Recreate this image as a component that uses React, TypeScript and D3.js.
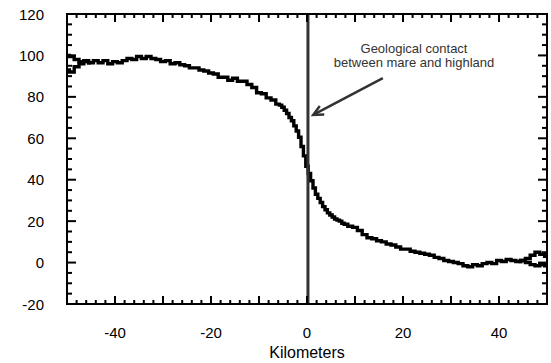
import React from "react";
import * as d3 from "d3";

const kmA: number[] = [
  -50, -49, -48, -47, -46, -45, -44, -43, -42, -41,
  -40, -39, -38, -37, -36, -35, -34, -33, -32, -31,
  -30, -29, -28, -27, -26, -25, -24, -23, -22, -21,
  -20, -19, -18, -17, -16, -15, -14, -13, -12, -11,
  -10, -9, -8, -7,
  -6, -5.5, -5, -4.5, -4, -3.5, -3, -2.5, -2, -1.5, -1, -0.5,
  0, 0.5, 1, 1.5, 2, 2.5, 3, 3.5, 4, 4.5, 5, 5.5, 6, 6.5, 7, 7.5,
  8, 9, 10, 11, 12, 13, 14, 15, 16, 17, 18, 19,
  20, 21, 22, 23, 24, 25, 26, 27, 28, 29,
  30, 31, 32, 33, 34, 35, 36, 37, 38, 39,
  40, 41, 42, 43, 44, 45, 46, 47, 48, 49, 50,
];
const valuesA: number[] = [
  100, 99.5, 98, 97, 97.5, 96.5, 97.5, 96.5, 97.5, 96,
  97, 96.5, 97.5, 98.5, 98, 99.5, 98.5, 99.5, 98.5, 98,
  97, 97.5, 96, 96.5, 95.5, 95, 94, 94, 93, 92.5,
  91.5, 91, 89.5, 89.5, 88, 89, 87.5, 87.5, 86, 84.5,
  82, 81.5, 79.5, 78.5,
  76.5, 76, 75, 73.5, 72, 70, 68.5, 66, 63.5, 60.5, 56, 51.5,
  46.5, 43, 39.5, 36, 33, 31, 29, 27, 25.5, 24, 23, 22, 21, 20.5, 20, 19,
  18.5, 17.5, 17, 15.5, 13.5, 12, 11.5, 10.5, 10, 9, 8.5, 7.5,
  6.5, 6.5, 5.5, 5, 4.5, 4, 3.5, 2.5, 2, 1,
  0.5, 0, -0.5, -1.5, -2, -1, -1.5, -0.5, 0, -0.5,
  1, 0.5, 1.5, 1, 0.5, 1, 0, -1, -1.5, -1, -1.5,
];
const kmLeftB: number[] = [-50, -49, -48, -47, -46, -45];
const valuesLeftB: number[] = [93, 92, 94.5, 96, 97, 96.5];
const kmRightB: number[] = [44, 45, 46, 47, 48, 49, 50];
const valuesRightB: number[] = [0.5, 1, 2, 3.5, 5, 4, 3];

const xTickLabels: number[] = [-40, -20, 0, 20, 40];
const yTickLabels: number[] = [-20, 0, 20, 40, 60, 80, 100, 120];
const contactKm = 0.2;
const arrowFrom: [number, number] = [15.8, 89];
const arrowTo: [number, number] = [1.3, 71.3];
const noteLines: string[] = ["Geological contact", "between mare and highland"];
const xTitle = "Kilometers";

const W = 551, H = 363;
const L = 67, R = 547, T = 14, B = 304;
const FONT = "'Liberation Sans', Arial, sans-serif";

export default function App() {
  const x = d3.scaleLinear().domain([-50, 50]).range([L, R]);
  const y = d3.scaleLinear().domain([-20, 120]).range([B, T]);
  const line = d3
    .line<[number, number]>()
    .x((d) => x(d[0]))
    .y((d) => y(d[1]))
    .curve(d3.curveStep);
  const pa = line(kmA.map((k, i) => [k, valuesA[i]]) as [number, number][]) || "";
  const pl = line(kmLeftB.map((k, i) => [k, valuesLeftB[i]]) as [number, number][]) || "";
  const pr = line(kmRightB.map((k, i) => [k, valuesRightB[i]]) as [number, number][]) || "";

  const xMinor = d3.range(-50, 50.01, 2);
  const yMinor = d3.range(-20, 120.01, 5);
  const ticks: JSX.Element[] = [];
  xMinor.forEach((v, i) => {
    const major = Math.abs(v % 10) < 1e-6;
    const len = major ? 8 : 4;
    const px = x(v);
    ticks.push(<line key={"xb" + i} x1={px} x2={px} y1={B} y2={B - len} stroke="#000" strokeWidth={2} />);
    ticks.push(<line key={"xt" + i} x1={px} x2={px} y1={T} y2={T + len} stroke="#000" strokeWidth={2} />);
  });
  yMinor.forEach((v, i) => {
    const major = Math.abs(v % 20) < 1e-6;
    const len = major ? 9 : 5;
    const py = y(v);
    ticks.push(<line key={"yl" + i} x1={L} x2={L + len} y1={py} y2={py} stroke="#000" strokeWidth={2} />);
    ticks.push(<line key={"yr" + i} x1={R} x2={R - len} y1={py} y2={py} stroke="#000" strokeWidth={2} />);
  });

  const ax0 = x(arrowFrom[0]), ay0 = y(arrowFrom[1]);
  const ax1 = x(arrowTo[0]), ay1 = y(arrowTo[1]);
  const ang = Math.atan2(ay1 - ay0, ax1 - ax0);
  const hl = 11, hw = 0.45;
  const h1 = [ax1 - hl * Math.cos(ang - hw), ay1 - hl * Math.sin(ang - hw)];
  const h2 = [ax1 - hl * Math.cos(ang + hw), ay1 - hl * Math.sin(ang + hw)];

  return (
    <svg width={W} height={H} style={{ position: "absolute", left: 0, top: 0, background: "#fff" }}>
      <rect x={0} y={0} width={W} height={H} fill="#fff" />
      <clipPath id="plot">
        <rect x={L} y={T} width={R - L} height={B - T} />
      </clipPath>
      <g clipPath="url(#plot)">
        <path d={pa} fill="none" stroke="#000" strokeWidth={3.4} />
        <path d={pl} fill="none" stroke="#000" strokeWidth={3.4} />
        <path d={pr} fill="none" stroke="#000" strokeWidth={3.4} />
      </g>
      <line x1={x(contactKm)} x2={x(contactKm)} y1={T} y2={B} stroke="#333" strokeWidth={3} />
      <line x1={ax0} y1={ay0} x2={ax1 - 2 * Math.cos(ang)} y2={ay1 - 2 * Math.sin(ang)} stroke="#333" strokeWidth={2.5} />
      <path d={`M${h1[0]},${h1[1]}L${ax1},${ay1}L${h2[0]},${h2[1]}`} fill="none" stroke="#333" strokeWidth={2.5} />
      {noteLines.map((t, i) => (
        <text key={t} x={414} y={53 + i * 14} textAnchor="middle" fontFamily={FONT} fontSize={13} fill="#333">
          {t}
        </text>
      ))}
      {ticks}
      <rect x={L} y={T} width={R - L} height={B - T} fill="none" stroke="#000" strokeWidth={2} />
      {yTickLabels.map((v) => (
        <text key={"yl" + v} x={44} y={y(v) + 5.5} textAnchor="end" fontFamily={FONT} fontSize={15} fill="#000">
          {v}
        </text>
      ))}
      {xTickLabels.map((v) => (
        <text key={"xl" + v} x={x(v)} y={338} textAnchor="middle" fontFamily={FONT} fontSize={15} fill="#000">
          {v}
        </text>
      ))}
      <text x={(L + R) / 2} y={358} textAnchor="middle" fontFamily={FONT} fontSize={16} fill="#000">
        {xTitle}
      </text>
    </svg>
  );
}
